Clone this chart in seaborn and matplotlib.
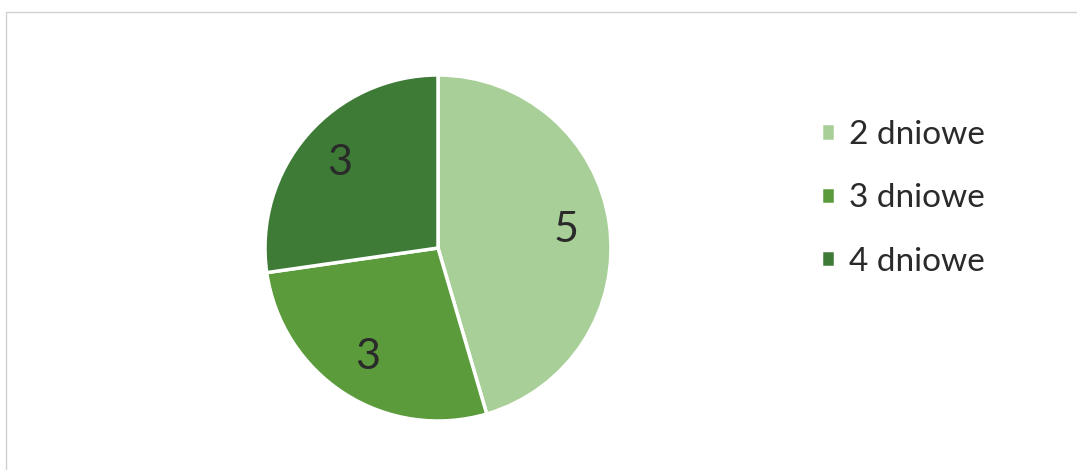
import matplotlib
matplotlib.use("Agg")
import matplotlib.pyplot as plt
import seaborn as sns
from matplotlib.patches import Rectangle

# data
categories = ["2 dniowe", "3 dniowe", "4 dniowe"]
counts = [5, 3, 3]
colors = ["#a9cf98", "#5b9b3b", "#3e7b37"]

sns.set_theme(style="white")
plt.rcParams["font.family"] = ["Lato", "DejaVu Sans"]

fig = plt.figure(figsize=(10.77, 4.70), dpi=100)

# thin grey frame like the exported office chart
fig.patches.append(Rectangle((6 / 1077, -0.01), 1.02, 1 - 12 / 470 + 0.01,
                             transform=fig.transFigure, fill=False,
                             edgecolor="#d0d0d0", linewidth=1))

cx, cy, r = 438, 248, 173
ax = fig.add_axes([(cx - r) / 1077, (470 - cy - r) / 470, 2 * r / 1077, 2 * r / 470])

wedges, texts, autotexts = ax.pie(
    counts,
    colors=colors,
    startangle=90,
    counterclock=False,
    autopct=lambda p: f"{round(p * sum(counts) / 100):d}",
    pctdistance=0.75,
    wedgeprops=dict(edgecolor="white", linewidth=2.5),
    textprops=dict(fontsize=31, color="#2a2a2a"),
)
ax.set_xlim(-1, 1)
ax.set_ylim(-1, 1)
ax.set_aspect("equal")

fig.legend(
    wedges, categories,
    loc="upper left",
    bbox_to_anchor=(821 / 1077, 1 - 120 / 470),
    frameon=False,
    fontsize=24,
    labelcolor="#2a2a2a",
    borderpad=0,
    borderaxespad=0,
    handlelength=0.42,
    handleheight=0.42,
    handletextpad=0.42,
    labelspacing=1.0,
)

fig.savefig("out.png", dpi=100, facecolor="white")
